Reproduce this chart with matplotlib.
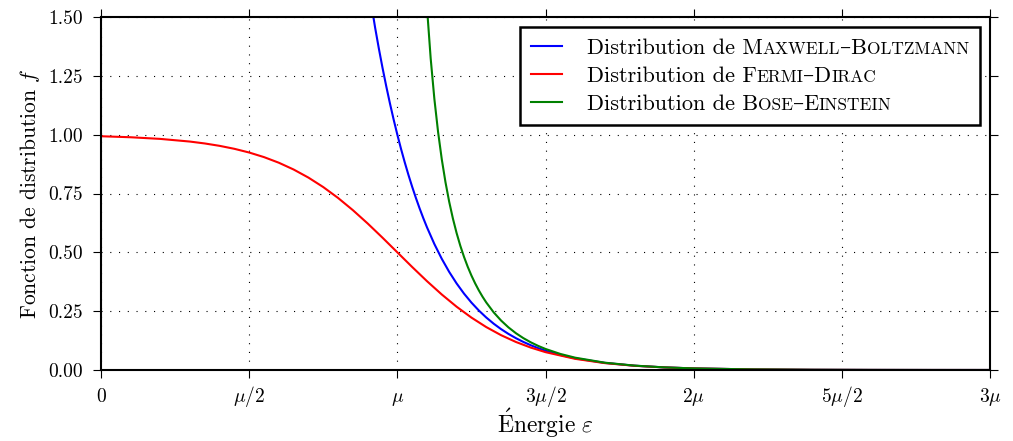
import matplotlib
matplotlib.use("Agg")
import matplotlib.pyplot as plt
from matplotlib.offsetbox import TextArea, HPacker
from matplotlib.lines import Line2D

plt.rcParams['font.family'] = ['cmr10', 'DejaVu Serif']
plt.rcParams['mathtext.fontset'] = 'cm'
plt.rcParams['axes.formatter.use_mathtext'] = True
plt.rcParams['lines.scale_dashes'] = False

# energy in units of mu
eps_fd = [0.0, 0.1, 0.2, 0.3, 0.35, 0.4, 0.45, 0.5, 0.55, 0.6, 0.65, 0.7, 0.75, 0.8,
          0.85, 0.9, 0.95, 1.0, 1.05, 1.1, 1.15, 1.2, 1.25, 1.3, 1.35, 1.4, 1.45, 1.5,
          1.6, 1.7, 1.8, 1.9, 2.0, 2.2, 2.4, 2.6, 2.8, 3.0]
f_fd = [0.99331, 0.98901, 0.98201, 0.97069, 0.96267, 0.95257, 0.93991, 0.92414, 0.90465,
        0.88080, 0.85195, 0.81757, 0.77730, 0.73106, 0.67918, 0.62246, 0.56218, 0.5,
        0.43782, 0.37754, 0.32082, 0.26894, 0.22270, 0.18243, 0.14805, 0.11920, 0.09535,
        0.07586, 0.04743, 0.02931, 0.01799, 0.01099, 0.00669, 0.00247, 0.00091, 0.00034,
        0.00012, 0.00005]

eps_mb = [0.9, 0.925, 0.9375, 0.95, 0.9625, 0.975, 0.9875, 1.0, 1.0125, 1.025, 1.0375,
          1.05, 1.0625, 1.075, 1.0875, 1.1, 1.125, 1.15, 1.175, 1.2, 1.225, 1.25, 1.275,
          1.3, 1.325, 1.35, 1.375, 1.4, 1.425, 1.45, 1.475, 1.5, 1.55, 1.6, 1.7, 1.8, 1.9,
          2.0, 2.2, 2.4, 2.6, 2.8, 3.0]
f_mb = [1.64872, 1.45499, 1.36684, 1.28403, 1.20623, 1.13315, 1.06449, 1.0, 0.93941,
        0.88250, 0.82903, 0.77880, 0.73162, 0.68729, 0.64565, 0.60653, 0.53526, 0.47237,
        0.41686, 0.36788, 0.32465, 0.28651, 0.25284, 0.22313, 0.19691, 0.17377, 0.15336,
        0.13534, 0.11943, 0.10540, 0.09301, 0.08209, 0.06393, 0.04979, 0.03020, 0.01832,
        0.01111, 0.00674, 0.00248, 0.00091, 0.00034, 0.00012, 0.00005]

eps_be = [1.1, 1.1125, 1.125, 1.1375, 1.15, 1.1625, 1.175, 1.1875, 1.2, 1.2125, 1.225,
          1.2375, 1.25, 1.2625, 1.275, 1.2875, 1.3, 1.325, 1.35, 1.375, 1.4, 1.425, 1.45,
          1.475, 1.5, 1.55, 1.6, 1.7, 1.8, 1.9, 2.0, 2.2, 2.4, 2.6, 2.8, 3.0]
f_be = [1.54149, 1.32441, 1.15175, 1.01139, 0.89526, 0.79775, 0.71486, 0.64367, 0.58198,
        0.52811, 0.48072, 0.43881, 0.40155, 0.36826, 0.33840, 0.31151, 0.28722, 0.24519,
        0.21032, 0.18113, 0.15652, 0.13563, 0.11782, 0.10255, 0.08943, 0.06829, 0.05240,
        0.03114, 0.01866, 0.01123, 0.00678, 0.00248, 0.00091, 0.00034, 0.00012, 0.00005]

xticks = [0, 0.5, 1.0, 1.5, 2.0, 2.5, 3.0]
xticklabels = ['$0$', r'$\mu/2$', r'$\mu$', r'$3\mu/2$', r'$2\mu$', r'$5\mu/2$', r'$3\mu$']
yticks = [0.0, 0.25, 0.5, 0.75, 1.0, 1.25, 1.5]
yticklabels = ['0.00', '0.25', '0.50', '0.75', '1.00', '1.25', '1.50']

legend_parts = [
    [("Distribution de M", 1.0), ("AXWELL", 0.78), ("–B", 1.0), ("OLTZMANN", 0.78)],
    [("Distribution de F", 1.0), ("ERMI", 0.78), ("–D", 1.0), ("IRAC", 0.78)],
    [("Distribution de B", 1.0), ("OSE", 0.78), ("–E", 1.0), ("INSTEIN", 0.78)],
]
colors = ['#0000ff', '#ff0000', '#008000']

fig = plt.figure(figsize=(10.13, 4.41), dpi=100)
ax = fig.add_axes([101/1013, 1-370/441, (990-101)/1013, (370-17)/441])

ax.plot(eps_mb, f_mb, color=colors[0], lw=1.5)
ax.plot(eps_fd, f_fd, color=colors[1], lw=1.5)
ax.plot(eps_be, f_be, color=colors[2], lw=1.5)

ax.set_xlim(0, 3)
ax.set_ylim(0, 1.5)
ax.set_xticks(xticks)
ax.set_xticklabels(xticklabels)
ax.set_yticks(yticks)
ax.set_yticklabels(yticklabels)
ax.grid(True, color='k', linestyle=(0, (0.8, 5.5)), linewidth=0.8)
for s in ax.spines.values():
    s.set_linewidth(1.5)
ax.tick_params(direction='out', length=6, width=0.8, top=True, right=True)
ax.tick_params(axis='x', labelsize=14, pad=16.7)
ax.tick_params(axis='y', labelsize=14, pad=7)
for lbl in ax.get_xticklabels():
    lbl.set_va('baseline')

ax.set_xlabel(r'$\mathrm{\acute{E}nergie}\ \varepsilon$', fontsize=17, va='baseline')
ax.xaxis.set_label_coords(0.5, (370 - 433) / 353)
ax.set_ylabel(r'Fonction de distribution $f$', fontsize=15.5, va='center')
ax.yaxis.set_label_coords((30 - 101) / 889, 0.5)

fs = 16
handles = [Line2D([], [], color=c, lw=1.5) for c in colors]
leg = ax.legend(handles, ['x', 'y', 'z'], loc='upper right', fancybox=False,
                framealpha=1, edgecolor='k', fontsize=fs, borderaxespad=0.45,
                handlelength=1.4, handletextpad=1.1, labelspacing=0.38,
                borderpad=0.5)
leg.get_frame().set_linewidth(1.8)
col = leg._legend_handle_box.get_children()[0]
for item, parts in zip(col.get_children(), legend_parts):
    areas = [TextArea(t, textprops=dict(fontsize=fs * k)) for t, k in parts]
    pk = HPacker(children=areas, align='baseline', pad=0, sep=0)
    pk.set_figure(fig)
    item._children[1] = pk

fig.savefig('out.png', dpi=100)
